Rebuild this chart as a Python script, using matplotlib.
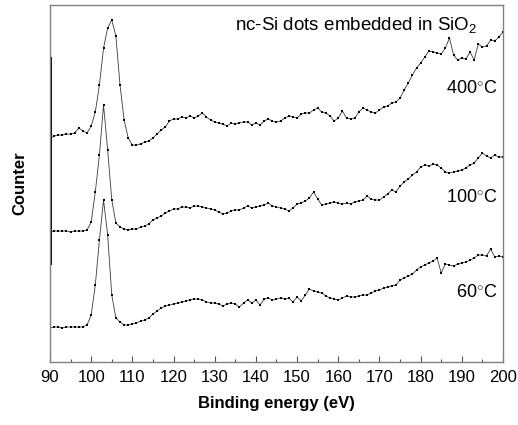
import numpy as np
import matplotlib
matplotlib.use("Agg")
import matplotlib.pyplot as plt
from matplotlib.ticker import MultipleLocator

plt.rcParams["font.family"] = "Liberation Sans"
plt.rcParams["mathtext.fontset"] = "custom"
plt.rcParams["mathtext.rm"] = "Liberation Sans"
plt.rcParams["mathtext.it"] = "Liberation Sans:italic"
plt.rcParams["mathtext.bf"] = "Liberation Sans:bold"

# binding energy grid (eV), one point per eV
energy = np.arange(90, 201)

# intensities (arb. units)
counts_400 = [
    223, 226, 227, 227, 228, 228, 229, 234, 231, 229,
    236, 250, 277, 314, 334, 342, 326, 277, 242, 224,
    217, 217, 218, 220, 221, 224, 228, 232, 235, 241,
    243, 243, 245, 244, 246, 244, 246, 249, 245, 242,
    240, 239, 238, 236, 239, 238, 239, 240, 240, 237,
    239, 237, 241, 243, 241, 240, 241, 244, 246, 245,
    244, 248, 249, 249, 252, 254, 250, 249, 246, 241,
    244, 251, 244, 243, 244, 250, 254, 252, 250, 249,
    252, 255, 256, 259, 260, 264, 272, 279, 287, 294,
    299, 305, 311, 310, 309, 308, 314, 324, 307, 302,
    304, 303, 310, 302, 318, 315, 316, 322, 321, 325,
    330]

counts_100 = [
    130, 131, 131, 131, 131, 130, 131, 131, 131, 132,
    140, 170, 207, 257, 212, 162, 139, 135, 133, 132,
    133, 133, 135, 136, 138, 142, 144, 146, 149, 151,
    153, 153, 155, 155, 154, 156, 156, 155, 154, 153,
    152, 150, 148, 149, 151, 152, 152, 154, 156, 154,
    155, 156, 157, 159, 156, 155, 154, 153, 151, 154,
    158, 159, 161, 164, 170, 163, 157, 158, 159, 160,
    159, 158, 159, 158, 160, 161, 162, 166, 163, 162,
    162, 165, 168, 172, 170, 176, 180, 183, 187, 190,
    195, 197, 196, 198, 197, 194, 190, 189, 190, 191,
    192, 194, 197, 199, 204, 209, 206, 204, 207, 205,
    205]

counts_60 = [
    34, 35, 35, 34, 35, 35, 35, 35, 35, 37,
    47, 77, 122, 162, 127, 67, 44, 40, 37, 37,
    38, 39, 41, 42, 44, 48, 51, 54, 56, 57,
    58, 59, 60, 61, 62, 63, 63, 62, 60, 59,
    59, 58, 56, 58, 59, 58, 55, 59, 62, 59,
    62, 57, 63, 64, 62, 63, 64, 63, 64, 60,
    65, 61, 67, 73, 71, 70, 69, 66, 64, 63,
    62, 64, 66, 65, 65, 66, 67, 67, 69, 71,
    72, 74, 75, 76, 77, 82, 84, 86, 88, 92,
    95, 97, 99, 101, 104, 89, 98, 97, 96, 98,
    99, 100, 102, 104, 107, 107, 106, 113, 105, 106,
    105]

labels = ["400$^{\\circ}$C", "100$^{\\circ}$C", "60$^{\\circ}$C"]
label_y = [0.767, 0.462, 0.196]

fig = plt.figure(figsize=(5.18, 4.25), dpi=100)
ax = fig.add_axes([50 / 518, 63 / 425, 453 / 518, 357 / 425])

for counts in (counts_400, counts_100, counts_60):
    ax.plot(energy, counts, color="#3a3a3a", linewidth=0.6,
            marker="s", markersize=2.0, markeredgewidth=0,
            markerfacecolor="black")

ax.set_xlim(90, 200)
ax.set_ylim(0, 357)
ax.xaxis.set_major_locator(MultipleLocator(10))
ax.xaxis.set_minor_locator(MultipleLocator(5))
ax.tick_params(axis="x", which="major", direction="in", length=4,
               width=0.8, color="#555555", labelsize=12, pad=6)
ax.tick_params(axis="x", which="minor", direction="in", length=2.5,
               width=0.8, color="#555555")
ax.set_yticks([])
for sp in ax.spines.values():
    sp.set_color("#808080")
    sp.set_linewidth(1.0)

# thick dark segment on the left axis
ax.axvline(90, ymin=0.277, ymax=0.852, color="black", linewidth=2.2)

ax.set_xlabel("Binding energy (eV)", fontsize=12, fontweight="bold",
              labelpad=8)
ax.set_ylabel("Counter", fontsize=12, fontweight="bold", labelpad=16)

ax.text(0.675, 0.944, "nc-Si dots embedded in SiO$_2$", transform=ax.transAxes,
        fontsize=13.5, ha="center", va="center")
for lab, yy in zip(labels, label_y):
    ax.text(0.987, yy, lab, transform=ax.transAxes, fontsize=13,
            ha="right", va="center")

fig.savefig("out.png", dpi=100)
